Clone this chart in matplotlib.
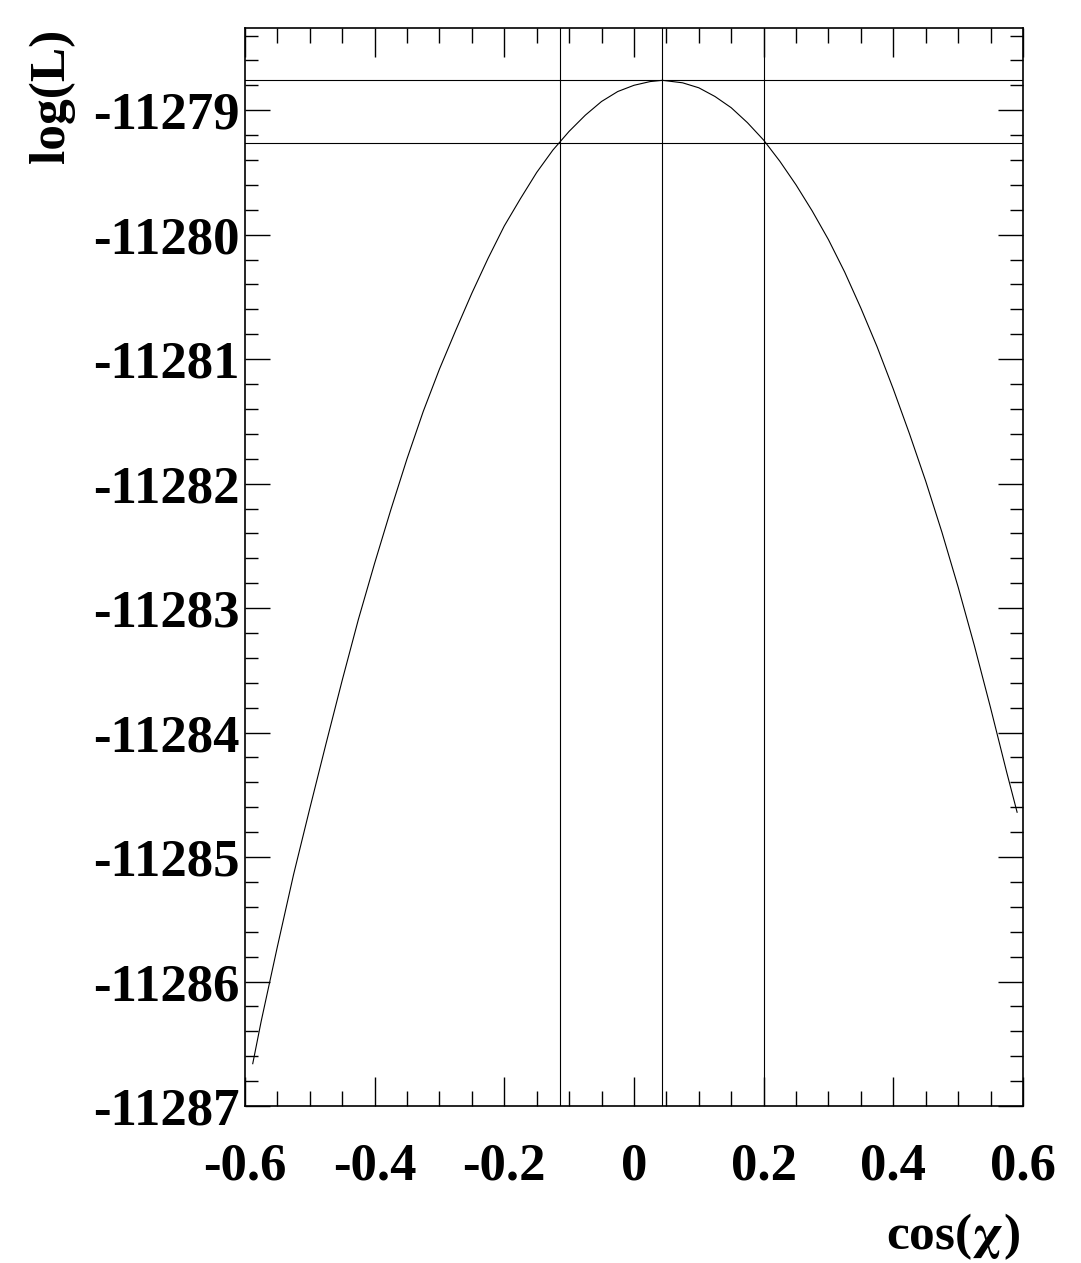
import numpy as np
import matplotlib
matplotlib.use('Agg')
import matplotlib.pyplot as plt
from matplotlib.ticker import MultipleLocator, FixedLocator, FixedFormatter

plt.rcParams['font.family'] = ['Liberation Serif', 'DejaVu Serif']
plt.rcParams['font.weight'] = 'bold'
plt.rcParams['mathtext.fontset'] = 'stix'

# log-likelihood scan
cos_chi = [-0.588, -0.575, -0.55, -0.525, -0.5, -0.475, -0.45, -0.425, -0.4,
           -0.375, -0.35, -0.325, -0.3, -0.275, -0.25, -0.225, -0.2, -0.175,
           -0.15, -0.125, -0.1, -0.075, -0.05, -0.025, 0.0, 0.025, 0.044,
           0.075, 0.1, 0.125, 0.15, 0.175, 0.2, 0.225, 0.25, 0.275, 0.3,
           0.325, 0.35, 0.375, 0.4, 0.425, 0.45, 0.475, 0.5, 0.525, 0.55,
           0.575, 0.591]
log_l = [-11286.66, -11286.32, -11285.72, -11285.14, -11284.61, -11284.09,
         -11283.58, -11283.09, -11282.64, -11282.21, -11281.80, -11281.42,
         -11281.08, -11280.77, -11280.47, -11280.19, -11279.93, -11279.71,
         -11279.50, -11279.32, -11279.17, -11279.04, -11278.93, -11278.85,
         -11278.80, -11278.77, -11278.76, -11278.78, -11278.82, -11278.89,
         -11278.98, -11279.10, -11279.24, -11279.41, -11279.60, -11279.81,
         -11280.04, -11280.30, -11280.59, -11280.90, -11281.24, -11281.60,
         -11281.98, -11282.39, -11282.83, -11283.30, -11283.80, -11284.32,
         -11284.64]

# best fit and +-0.5 interval
h_levels = [-11278.76, -11279.26]
v_levels = [-0.114, 0.044, 0.200]

x_ticks = [-0.6, -0.4, -0.2, 0, 0.2, 0.4, 0.6]
x_labels = ['-0.6', '-0.4', '-0.2', '0', '0.2', '0.4', '0.6']
y_ticks = [-11287, -11286, -11285, -11284, -11283, -11282, -11281, -11280, -11279]
y_labels = [str(v) for v in y_ticks]

fig = plt.figure(figsize=(10.81, 12.63), dpi=100)
ax = fig.add_axes([0.2266, 0.1243, 0.7197, 0.8535])

ax.plot(cos_chi, log_l, color='black', lw=0.8)
for h in h_levels:
    ax.axhline(h, color='black', lw=0.8)
for v in v_levels:
    ax.axvline(v, color='black', lw=0.8)

ax.set_xlim(-0.6, 0.6)
ax.set_ylim(-11287.0, -11278.34)

ax.xaxis.set_major_locator(FixedLocator(x_ticks))
ax.xaxis.set_major_formatter(FixedFormatter(x_labels))
ax.xaxis.set_minor_locator(MultipleLocator(0.05))
ax.yaxis.set_major_locator(FixedLocator(y_ticks))
ax.yaxis.set_major_formatter(FixedFormatter(y_labels))
ax.yaxis.set_minor_locator(MultipleLocator(0.2))

ax.tick_params(axis='both', which='both', direction='in', top=True, right=True,
               width=1.0, labelsize=38)
ax.tick_params(axis='x', which='major', length=21, pad=26)
ax.tick_params(axis='x', which='minor', length=11)
ax.tick_params(axis='y', which='major', length=18, pad=4)
ax.tick_params(axis='y', which='minor', length=9.5)
for s in ax.spines.values():
    s.set_linewidth(1.2)

fig.text(0.9435, 0.001, r'cos($\mathrm{\chi}$)', ha='right', va='bottom',
         fontsize=37, fontweight='bold')
fig.text(0.048, 0.977, 'log(L)', ha='center', va='top', rotation=90,
         fontsize=37, fontweight='bold')

fig.savefig('out.png', dpi=100)
